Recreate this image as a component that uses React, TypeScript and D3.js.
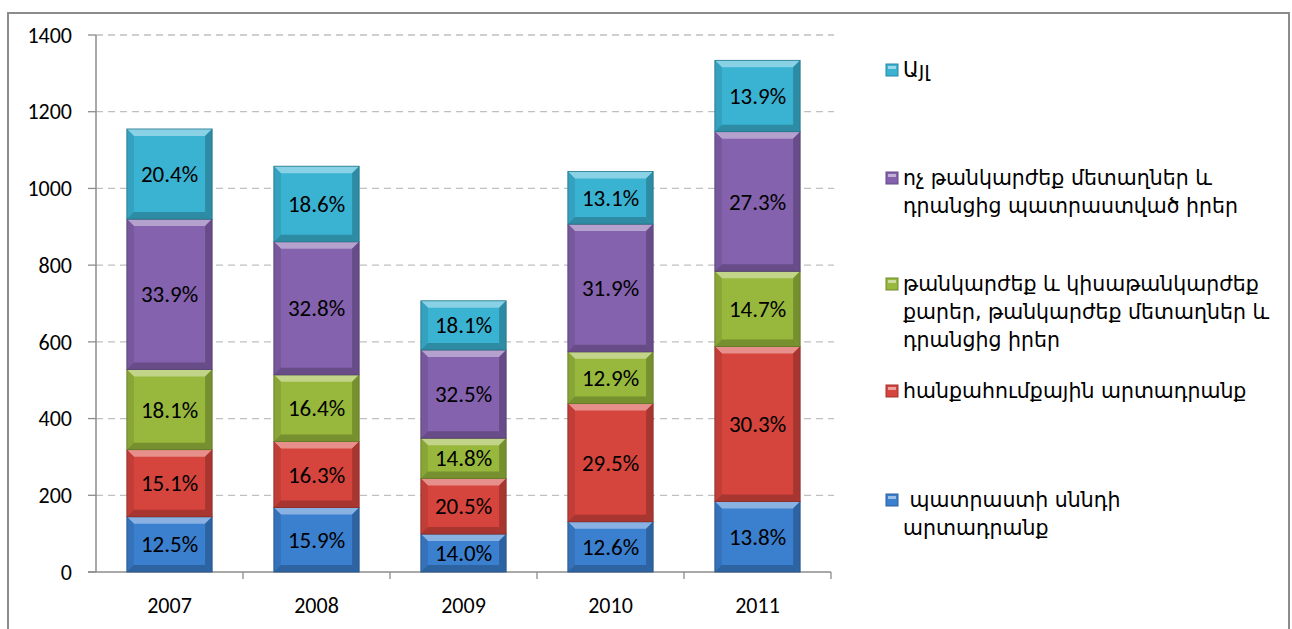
import React, { useEffect } from 'react';
import * as d3 from 'd3';

const years = ['2007', '2008', '2009', '2010', '2011'];
const seriesNames = ['food', 'mining', 'stones', 'metals', 'other'];

// values (stacked, bottom to top)
const food = [144, 168, 99, 131, 184];
const mining = [175, 172, 145, 308, 404];
const stones = [209, 174, 105, 135, 196];
const metals = [392, 347, 230, 333, 364];
const other = [235, 197, 128, 137, 186];

const foodPct = ['12.5%', '15.9%', '14.0%', '12.6%', '13.8%'];
const miningPct = ['15.1%', '16.3%', '20.5%', '29.5%', '30.3%'];
const stonesPct = ['18.1%', '16.4%', '14.8%', '12.9%', '14.7%'];
const metalsPct = ['33.9%', '32.8%', '32.5%', '31.9%', '27.3%'];
const otherPct = ['20.4%', '18.6%', '18.1%', '13.1%', '13.9%'];

const yTicks = [0, 200, 400, 600, 800, 1000, 1200, 1400];

const colors = ['#3b7fcf', '#d6453d', '#97b83c', '#8462ae', '#3ab3d3'];

// legend top to bottom
const legendItems = [
  { s: 4, lines: ['Այլ'] },
  { s: 3, lines: ['ոչ թանկարժեք մետաղներ և', 'դրանցից պատրաստված իրեր'] },
  { s: 2, lines: ['թանկարժեք և կիսաթանկարժեք', 'քարեր, թանկարժեք մետաղներ և', 'դրանցից իրեր'] },
  { s: 1, lines: ['հանքահումքային արտադրանք'] },
  { s: 0, lines: [' պատրաստի սննդի', 'արտադրանք'] },
];
const legendY = [70, 178, 284, 391, 500];

const W = 1292;
const H = 629;

const App: React.FC = () => {
  useEffect(() => {
    document.body.style.margin = '0';
  }, []);

  const values = [food, mining, stones, metals, other];
  const labels = [foodPct, miningPct, stonesPct, metalsPct, otherPct];

  const x = d3.scaleBand().domain(years).range([96, 831]).paddingInner(0.42).paddingOuter(0.21);
  const xb = d3.scaleBand().domain(years).range([96, 831]);
  const y = d3.scaleLinear().domain([0, 1400]).range([572, 35]);

  const rows = years.map((yr, i) => {
    const r: any = { year: yr };
    seriesNames.forEach((s, k) => (r[s] = values[k][i]));
    return r;
  });
  const stacked = d3.stack().keys(seriesNames)(rows);

  const bevel = 7;
  const font = 'Carlito, Calibri, "Open Sans", sans-serif';

  return (
    <svg width={W} height={H} style={{ display: 'block', background: '#fff' }}>
      <rect x={8} y={13} width={1281} height={H} fill="#fff" stroke="#8c8c8c" strokeWidth={2} />

      {yTicks.map((t) => (
        <g key={t}>
          {t > 0 && (
            <line x1={96} x2={834} y1={y(t)} y2={y(t)} stroke="#c0c0c0" strokeWidth={1.3} strokeDasharray="7,5" />
          )}
          <line x1={88} x2={96} y1={y(t)} y2={y(t)} stroke="#8c8c8c" strokeWidth={1.3} />
          <text x={72} y={y(t)} dy="0.35em" textAnchor="end" fontFamily={font} fontSize={22} fill="#000">
            {t}
          </text>
        </g>
      ))}
      <line x1={96} x2={96} y1={y(1400)} y2={y(0)} stroke="#8c8c8c" strokeWidth={1.5} />
      <line x1={88} x2={831} y1={y(0)} y2={y(0)} stroke="#8c8c8c" strokeWidth={1.5} />
      {years.map((yr) => (
        <line key={yr} x1={xb(yr)! + xb.bandwidth()} x2={xb(yr)! + xb.bandwidth()} y1={y(0)} y2={y(0) + 7} stroke="#8c8c8c" strokeWidth={1.3} />
      ))}
      {years.map((yr) => (
        <text key={yr} x={xb(yr)! + xb.bandwidth() / 2} y={605} dy="0.35em" textAnchor="middle" fontFamily={font} fontSize={22} fill="#000">
          {yr}
        </text>
      ))}

      {stacked.map((layer, k) => {
        const base = d3.color(colors[k])!;
        const light = d3.interpolateRgb(colors[k], '#ffffff')(0.4);
        const dark = base.darker(0.7).formatHex();
        const mid = base.darker(0.3).formatHex();
        return (
          <g key={layer.key}>
            {layer.map((d, i) => {
              const x0 = x(years[i])!;
              const w = x.bandwidth();
              const y0 = y(d[1]);
              const h = y(d[0]) - y(d[1]);
              const b = Math.min(bevel, h / 2);
              return (
                <g key={i}>
                  <rect x={x0} y={y0} width={w} height={h} fill={colors[k]} />
                  <polygon points={`${x0},${y0} ${x0 + w},${y0} ${x0 + w - b},${y0 + b} ${x0 + b},${y0 + b}`} fill={light} />
                  <polygon points={`${x0},${y0} ${x0 + b},${y0 + b} ${x0 + b},${y0 + h - b} ${x0},${y0 + h}`} fill={mid} />
                  <polygon points={`${x0 + w},${y0} ${x0 + w - b},${y0 + b} ${x0 + w - b},${y0 + h - b} ${x0 + w},${y0 + h}`} fill={dark} />
                  <polygon points={`${x0},${y0 + h} ${x0 + w},${y0 + h} ${x0 + w - b},${y0 + h - b} ${x0 + b},${y0 + h - b}`} fill={dark} />
                  <rect x={x0} y={y0} width={w} height={h} fill="none" stroke={base.darker(1.2).formatHex()} strokeWidth={0.8} />
                  <text x={x0 + w / 2} y={(y0 + y0 + h) / 2} dy="0.35em" textAnchor="middle" fontFamily={font} fontSize={23} fill="#000">
                    {labels[k][i]}
                  </text>
                </g>
              );
            })}
          </g>
        );
      })}

      {legendItems.map((it, j) => {
        const c = d3.color(colors[it.s])!;
        const ly = legendY[j];
        return (
          <g key={j}>
            <rect x={886} y={ly - 6} width={12} height={12} fill={colors[it.s]} stroke={c.darker(0.8).formatHex()} strokeWidth={1} />
            <rect x={888} y={ly - 4} width={8} height={3} fill={d3.interpolateRgb(colors[it.s], '#fff')(0.5)} />
            {it.lines.map((ln, li) => (
              <text key={li} x={903} y={ly + li * 28} dy="0.35em" fontFamily='"DejaVu Sans", sans-serif' fontSize={20.5} fill="#000" style={{ whiteSpace: 'pre' }}>
                {ln}
              </text>
            ))}
          </g>
        );
      })}
    </svg>
  );
};

export default App;
